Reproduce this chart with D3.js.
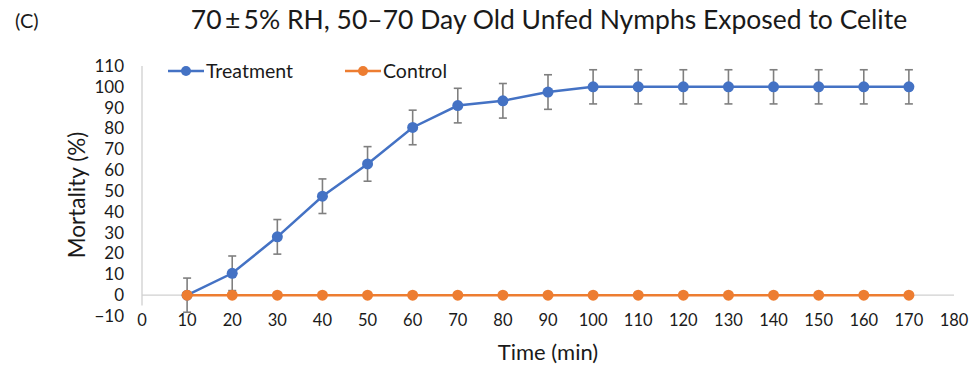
<!DOCTYPE html>
<html>
<head>
<meta charset="utf-8">
<script src="https://cdn.jsdelivr.net/npm/d3@7"></script>
<style>
  body { margin: 0; background: #fff; }
  svg text { font-family: Lato, "Open Sans", sans-serif; fill: #1a1a1a; }
</style>
</head>
<body>
<div id="chart"></div>
<script>
const WIDTH = 978;
const HEIGHT = 367;

// data
const times = [10, 20, 30, 40, 50, 60, 70, 80, 90, 100, 110, 120, 130, 140, 150, 160, 170];
const treatment = [0, 10.5, 28, 47.5, 63, 80.5, 91, 93.3, 97.5, 100, 100, 100, 100, 100, 100, 100, 100];
const treatmentErr = [8.2, 8.3, 8.3, 8.3, 8.3, 8.3, 8.3, 8.3, 8.3, 8.2, 8.2, 8.2, 8.2, 8.2, 8.2, 8.2, 8.2];
const control = [0, 0, 0, 0, 0, 0, 0, 0, 0, 0, 0, 0, 0, 0, 0, 0, 0];
const xTicks = d3.range(0, 181, 10);
const yTicks = d3.range(-10, 111, 10);

const BLUE = "#4472C4";
const ORANGE = "#ED7D31";
const ERR = "#7f7f7f";
const AXIS = "#d0d0d0";

const svg = d3.select("#chart").append("svg")
  .attr("width", WIDTH)
  .attr("height", HEIGHT);

const x = d3.scaleLinear().domain([0, 180]).range([142, 954]);
const y = d3.scaleLinear().domain([-10, 110]).range([316, 66]);

// axis lines
svg.append("line")
  .attr("x1", x(0)).attr("x2", x(180))
  .attr("y1", y(0)).attr("y2", y(0))
  .attr("stroke", AXIS).attr("stroke-width", 1.3);
svg.append("line")
  .attr("x1", x(0)).attr("x2", x(0))
  .attr("y1", y(110)).attr("y2", y(-5))
  .attr("stroke", AXIS).attr("stroke-width", 1.3);

// tick labels
svg.append("g").selectAll("text")
  .data(yTicks)
  .enter().append("text")
  .attr("x", 124)
  .attr("y", d => y(d))
  .attr("dy", "0.35em")
  .attr("text-anchor", "end")
  .attr("font-size", 17)
  .text(d => d < 0 ? "\u2212" + Math.abs(d) : d);

svg.append("g").selectAll("text")
  .data(xTicks)
  .enter().append("text")
  .attr("x", d => x(d))
  .attr("y", 320)
  .attr("dy", "0.35em")
  .attr("text-anchor", "middle")
  .attr("font-size", 16.5)
  .text(d => d);

// axis titles
svg.append("text")
  .attr("x", x(90))
  .attr("y", 352)
  .attr("dy", "0.35em")
  .attr("text-anchor", "middle")
  .attr("font-size", 22)
  .text("Time (min)");

svg.append("text")
  .attr("transform", "translate(77,195) rotate(-90)")
  .attr("dy", "0.35em")
  .attr("text-anchor", "middle")
  .attr("font-size", 22.5)
  .text("Mortality (%)");

// title
svg.append("text")
  .attr("x", 549)
  .attr("y", 20)
  .attr("dy", "0.35em")
  .attr("text-anchor", "middle")
  .attr("font-size", 26.5)
  .text("70\u2009\u00b1\u20095% RH, 50\u201370 Day Old Unfed Nymphs Exposed to Celite");

svg.append("text")
  .attr("x", 15)
  .attr("y", 21)
  .attr("dy", "0.35em")
  .attr("font-size", 20)
  .text("(C)");

// error bars for treatment
const errG = svg.append("g")
  .attr("stroke", ERR)
  .attr("stroke-width", 1.6);
times.forEach((t, i) => {
  const cx = x(t);
  const top = y(treatment[i] + treatmentErr[i]);
  const bot = y(treatment[i] - treatmentErr[i]);
  errG.append("line").attr("x1", cx).attr("x2", cx).attr("y1", top).attr("y2", bot);
  errG.append("line").attr("x1", cx - 4).attr("x2", cx + 4).attr("y1", top).attr("y2", top);
  errG.append("line").attr("x1", cx - 4).attr("x2", cx + 4).attr("y1", bot).attr("y2", bot);
});

const line = d3.line()
  .x(d => x(d[0]))
  .y(d => y(d[1]));

function drawSeries(values, colour) {
  const pts = times.map((t, i) => [t, values[i]]);
  svg.append("path")
    .datum(pts)
    .attr("d", line)
    .attr("fill", "none")
    .attr("stroke", colour)
    .attr("stroke-width", 2.5);
  svg.append("g").selectAll("circle")
    .data(pts)
    .enter().append("circle")
    .attr("cx", d => x(d[0]))
    .attr("cy", d => y(d[1]))
    .attr("r", 5.5)
    .attr("fill", colour);
}

drawSeries(treatment, BLUE);
drawSeries(control, ORANGE);

// legend
const legendItems = [
  { name: "Treatment", colour: BLUE, x0: 168 },
  { name: "Control", colour: ORANGE, x0: 345 }
];
const lg = svg.append("g").selectAll("g")
  .data(legendItems)
  .enter().append("g")
  .attr("transform", d => `translate(${d.x0},71)`);
lg.append("line")
  .attr("x1", 0).attr("x2", 36)
  .attr("stroke", d => d.colour)
  .attr("stroke-width", 2.5);
lg.append("circle")
  .attr("cx", 18).attr("r", 5)
  .attr("fill", d => d.colour);
lg.append("text")
  .attr("x", 38)
  .attr("dy", "0.35em")
  .attr("font-size", 19.5)
  .text(d => d.name);
</script>
</body>
</html>
